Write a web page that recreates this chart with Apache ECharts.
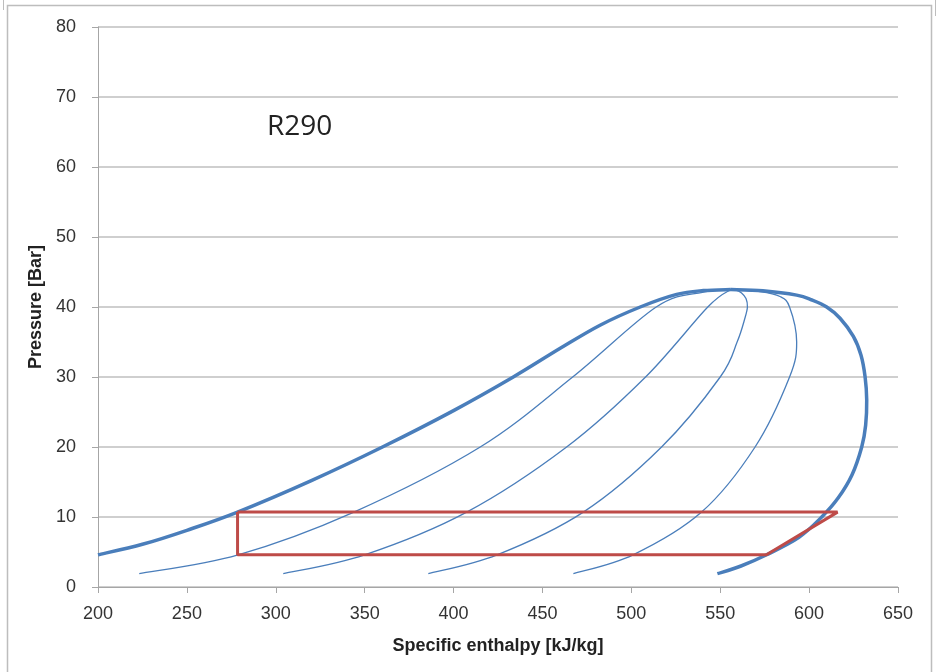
<!DOCTYPE html>
<html>
<head>
<meta charset="utf-8">
<script src="https://cdn.jsdelivr.net/npm/echarts@6/dist/echarts.min.js"></script>
<style>
  html, body { margin: 0; padding: 0; background: #ffffff; }
  #chart { width: 940px; height: 672px; }
</style>
</head>
<body>
<div id="chart"></div>
<script>
// ---- Data: [enthalpy kJ/kg, pressure bar] ----
const saturatedLiquid = [
  [200, 4.6], [225, 6.1], [250, 8.1], [278.5, 10.7], [320, 15.2], [360, 20.0],
  [400, 25.2], [433.6, 30.0], [460, 34.1], [482.4, 37.4], [505, 40.0], [525.5, 41.8],
  [540.5, 42.35], [556, 42.5]
];
const saturatedVapour = [
  [556, 42.5], [574, 42.33], [593, 41.7], [601.6, 41.0], [609.9, 40.0], [617.4, 38.4],
  [624.9, 35.8], [629.2, 33.1], [631.5, 30.0], [632.4, 26.7], [631.8, 23.1], [629.6, 20.0],
  [624.1, 16.0], [616.3, 12.7], [607.1, 10.0], [594.3, 7.1], [576.1, 4.6], [561.7, 3.0],
  [548.4, 1.9]
];
const quality02 = [
  [223.2, 1.9], [278.8, 4.6], [343, 10.6], [415, 20.0], [467, 30.0], [514, 40.0],
  [540, 42.1], [556, 42.5]
];
const quality04 = [
  [304.2, 1.9], [350, 4.6], [407.4, 10.7], [463.6, 20.0], [508, 30.0], [543, 40.0],
  [556, 42.5]
];
const quality06 = [
  [385.8, 1.9], [424.5, 4.6], [473, 10.7], [517, 20.0], [550, 30.0], [559.5, 35.0],
  [564, 38.5], [565.3, 40.0], [564.5, 41.2], [562, 42.0], [559, 42.4], [556, 42.5]
];
const quality08 = [
  [467.4, 1.9], [501, 4.6], [539.5, 10.7], [569.6, 20.0], [589, 30.0], [593, 35.0],
  [589, 40.0], [583.6, 41.5], [572.4, 42.2], [556, 42.5]
];
const refrigerationCycle = [
  [278.5, 10.7], [616, 10.7], [576, 4.6], [278.5, 4.6], [278.5, 10.7]
];
const xTicks = { min: 200, max: 650, step: 50 };
const yTicks = { min: 0, max: 80, step: 10 };
const fluidLabel = 'R290';
const xTitle = 'Specific enthalpy [kJ/kg]';
const yTitle = 'Pressure [Bar]';

// ---- Chart ----
const chart = echarts.init(document.getElementById('chart'), null, { renderer: 'canvas' });
const blue = '#4a7ebb';
const red = '#be4b48';
const labelFont = "'Liberation Sans', Arial, sans-serif";

// Smooth curve through the data points (Catmull-Rom), positioned via the axes' scales.
function smoothCurve(name, data, width) {
  return {
    name, type: 'custom', coordinateSystem: 'cartesian2d', silent: true, z: 2,
    data: [data[0]],
    encode: { x: 0, y: 1 },
    renderItem: function (params, api) {
      const pts = data.map(function (d) { return api.coord(d); });
      let path = 'M' + pts[0][0] + ' ' + pts[0][1];
      for (let i = 0; i < pts.length - 1; i++) {
        const p0 = pts[Math.max(i - 1, 0)];
        const p1 = pts[i];
        const p2 = pts[i + 1];
        const p3 = pts[Math.min(i + 2, pts.length - 1)];
        const c1x = p1[0] + (p2[0] - p0[0]) / 6, c1y = p1[1] + (p2[1] - p0[1]) / 6;
        const c2x = p2[0] - (p3[0] - p1[0]) / 6, c2y = p2[1] - (p3[1] - p1[1]) / 6;
        path += ' C' + c1x + ' ' + c1y + ' ' + c2x + ' ' + c2y + ' ' + p2[0] + ' ' + p2[1];
      }
      return {
        type: 'path',
        shape: { pathData: path },
        style: { fill: 'none', stroke: blue, lineWidth: width, lineJoin: 'round', lineCap: 'butt' }
      };
    }
  };
}

chart.setOption({
  animation: false,
  backgroundColor: '#ffffff',
  grid: { left: 98, right: 42, top: 27, bottom: 85, containLabel: false },
  xAxis: {
    type: 'value', min: xTicks.min, max: xTicks.max, interval: xTicks.step,
    name: xTitle, nameLocation: 'middle', nameGap: 50,
    nameTextStyle: { fontFamily: labelFont, fontWeight: 'bold', fontSize: 18, color: '#222' },
    axisLine: { show: true, lineStyle: { color: '#a6a6a6', width: 1 } },
    axisTick: { show: true, length: 6, lineStyle: { color: '#a6a6a6' } },
    axisLabel: { fontFamily: labelFont, fontSize: 18, color: '#333', margin: 18 },
    splitLine: { show: false }
  },
  yAxis: {
    type: 'value', min: yTicks.min, max: yTicks.max, interval: yTicks.step,
    name: yTitle, nameLocation: 'middle', nameGap: 47, nameRotate: 90,
    nameTextStyle: { fontFamily: labelFont, fontWeight: 'bold', fontSize: 18, color: '#222' },
    axisLine: { show: true, lineStyle: { color: '#a6a6a6', width: 1 } },
    axisTick: { show: true, length: 6, lineStyle: { color: '#a6a6a6' } },
    axisLabel: { fontFamily: labelFont, fontSize: 18, color: '#333', margin: 22 },
    splitLine: { show: true, lineStyle: { color: '#bfbfbf', width: 1.5 } }
  },
  series: [
    smoothCurve('Saturated liquid', saturatedLiquid, 3.5),
    smoothCurve('Saturated vapour', saturatedVapour, 3.5),
    smoothCurve('x = 0.2', quality02, 1.3),
    smoothCurve('x = 0.4', quality04, 1.3),
    smoothCurve('x = 0.6', quality06, 1.3),
    smoothCurve('x = 0.8', quality08, 1.3),
    {
      name: 'Cycle', type: 'line', data: refrigerationCycle, showSymbol: false,
      lineStyle: { color: red, width: 3 }, silent: true, z: 3
    }
  ],
  graphic: [
    {
      type: 'text', left: 267, top: 113, silent: true,
      style: { text: fluidLabel, fontFamily: "'Open Sans', 'Liberation Sans', sans-serif", fontSize: 28, fill: '#222' }
    },
    {
      type: 'rect', silent: true, z: -1,
      shape: { x: 7.5, y: 5.5, width: 924, height: 700 },
      style: { fill: 'none', stroke: '#bdbdbd', lineWidth: 1.5 }
    },
    {
      type: 'line', silent: true,
      shape: { x1: 3.5, y1: 0, x2: 3.5, y2: 10 },
      style: { stroke: '#bdbdbd', lineWidth: 1 }
    },
    {
      type: 'line', silent: true,
      shape: { x1: 935.5, y1: 0, x2: 935.5, y2: 16 },
      style: { stroke: '#bdbdbd', lineWidth: 1 }
    }
  ]
});
</script>
</body>
</html>
